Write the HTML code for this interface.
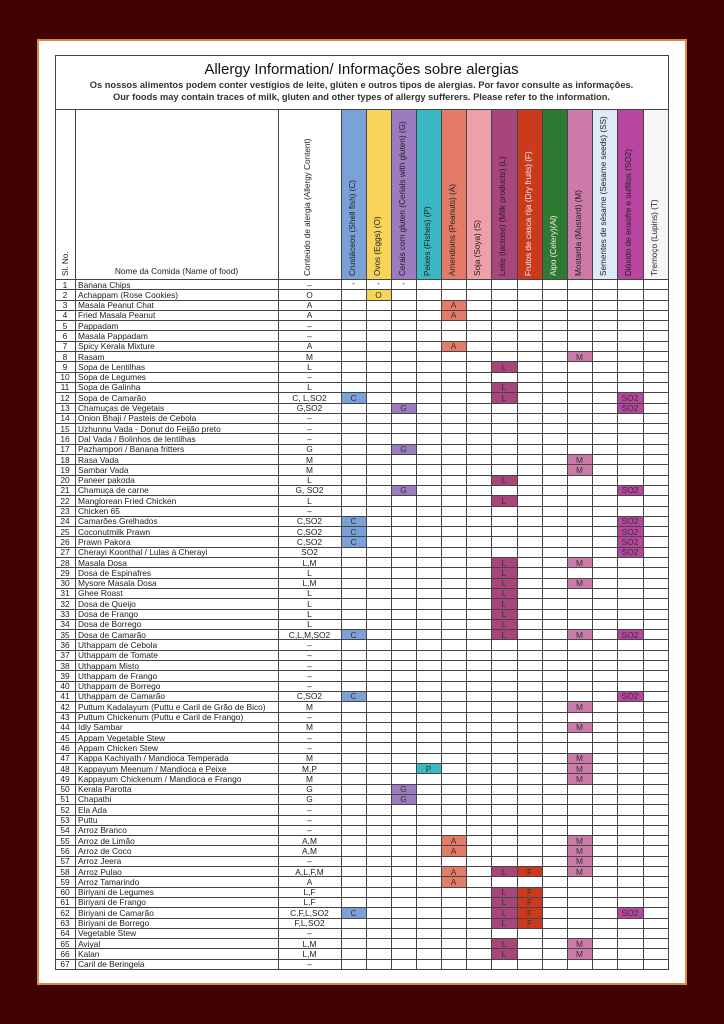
<!DOCTYPE html>
<html><head><meta charset="utf-8">
<style>
body{margin:0;width:724px;height:1024px;background:#430000;position:relative;overflow:hidden;font-family:"Liberation Sans",sans-serif;}
#page{position:absolute;left:37px;top:39px;width:646px;height:942px;background:#fff;border:2px solid #d4904a;box-sizing:content-box;}
.a{position:absolute;box-sizing:border-box;}
.t{position:absolute;font-size:8.4px;line-height:10px;color:#222;white-space:nowrap;}
.h{position:absolute;font-size:8.2px;color:#222;white-space:nowrap;transform-origin:0 0;transform:rotate(-90deg);}
</style></head><body>
<div id="page"></div>
<div id="root"></div>
<script>
var R=document.getElementById('root'),H='';
function box(x,y,w,h,st){H+='<div class="a" style="left:'+x+'px;top:'+y+'px;width:'+w+'px;height:'+h+'px;'+st+'"></div>';}
function txt(x,y,s,st){H+='<div class="t" style="left:'+x+'px;top:'+y+'px;'+(st||'')+'">'+s+'</div>';}
var L=55,Rr=668,T0=55,HT=109,HB=279,B=969;
H+='<div class="t" style="left:55px;width:613px;top:61px;text-align:center;font-size:15px;line-height:17px;color:#111">Allergy Information/ Informações sobre alergias</div>';
H+='<div class="t" style="left:55px;width:613px;top:80px;text-align:center;font-size:9.3px;font-weight:bold;color:#333;line-height:11px">Os nossos alimentos podem conter vestígios de leite, glúten e outros tipos de alergias. Por favor consulte as informações.</div>';
H+='<div class="t" style="left:55px;width:613px;top:92px;text-align:center;font-size:9.3px;font-weight:bold;color:#333;line-height:11px">Our foods may contain traces of milk, gluten and other types of allergy sufferers. Please refer to the information.</div>';
var cx=[341,366,391,416,441,466,491,517,542,567,592,617,643,668];
var cols=['#7ba2d8','#f8d458','#9c7cc0','#3ab8c4','#e47b68','#eea0a8','#a8457a','#cc3a1e','#2f7a32','#cc7aa8','#ddeaf8','#b845a0','#f6f6f6'];
var names=['Crustáceos (Shell fish) (C)','Ovos (Eggs) (O)','Cerais com gluten (Cerials with gluten) (G)','Peixes (Fishes) (P)','Amendoins (Peanuts) (A)','Soja (Soya) (S)','Leite (lactose) (Milk products) (L)','Frutos de casca rija (Dry fruits) (F)','Aipo (Celery)(Al)','Mostarda (Mustard) (M)','Sementes de sésame (Sesame seeds) (SS)','Dióxido de enxofre e sulfitos (SO2)','Tremoço (Lupins) (T)'];
for(var i=0;i<13;i++){box(cx[i],HT,cx[i+1]-cx[i],HB-HT,'background:'+cols[i]);H+='<div class="h" style="left:'+(cx[i]+7)+'px;top:276px;'+(i==7||i==8?'color:#eee;':'')+'">'+names[i]+'</div>';}
H+='<div class="h" style="left:303px;top:276px">Conteúdo de alergia (Allergy Content)</div>';
H+='<div class="h" style="left:61px;top:276px">Sl. No.</div>';
txt(75,266,'Nome da Comida (Name of food)','width:203px;text-align:center');
var rows=[
['Banana Chips','–',''],['Achappam (Rose Cookies)','O','O'],['Masala Peanut Chat','A','A'],['Fried Masala Peanut','A','A'],['Pappadam','–',''],['Masala Pappadam','–',''],['Spicy Kerala Mixture','A','A'],['Rasam','M','M'],['Sopa de Lentilhas','L','L'],['Sopa de Legumes','–',''],['Sopa de Galinha','L','L'],['Sopa de Camarão','C, L,SO2','C L SO2'],['Chamuças de Vegetais','G,SO2','G SO2'],['Onion Bhaji / Pasteis de Cebola','–',''],['Uzhunnu Vada - Donut do Feijão preto','–',''],['Dal Vada / Bolinhos de lentilhas','–',''],['Pazhampori / Banana fritters','G','G'],['Rasa Vada','M','M'],['Sambar Vada','M','M'],['Paneer pakoda','L','L'],['Chamuça de carne','G, SO2','G SO2'],['Manglorean Fried Chicken','L','L'],['Chicken 65','–',''],['Camarões Grelhados','C,SO2','C SO2'],['Coconutmilk Prawn','C,SO2','C SO2'],['Prawn Pakora','C,SO2','C SO2'],['Cherayi Koonthal / Lulas á Cherayi','SO2','SO2'],['Masala Dosa','L,M','L M'],['Dosa de Espinafres','L','L'],['Mysore Masala Dosa','L,M','L M'],['Ghee Roast','L','L'],['Dosa de Queijo','L','L'],['Dosa de Frango','L','L'],['Dosa de Borrego','L','L'],['Dosa de Camarão','C,L,M,SO2','C L M SO2'],['Uthappam de Cebola','–',''],['Uthappam de Tomate','–',''],['Uthappam Misto','–',''],['Uthappam de Frango','–',''],['Uthappam de Borrego','–',''],['Uthappam de Camarão','C,SO2','C SO2'],['Puttum Kadalayum (Puttu e Caril de Grão de Bico)','M','M'],['Puttum Chickenum (Puttu e Caril de Frango)','–',''],['Idly Sambar','M','M'],['Appam Vegetable Stew','–',''],['Appam Chicken Stew','–',''],['Kappa Kachiyath / Mandioca Temperada','M','M'],['Kappayum Meenum / Mandioca e Peixe','M,P','P M'],['Kappayum Chickenum / Mandioca e Frango','M','M'],['Kerala Parotta','G','G'],['Chapathi','G','G'],['Ela Ada','–',''],['Puttu','–',''],['Arroz Branco','–',''],['Arroz de Limão','A,M','A M'],['Arroz de Coco','A,M','A M'],['Arroz Jeera','–','M'],['Arroz Pulao','A,L,F,M','A L F M'],['Arroz Tamarindo','A','A'],['Biriyani de Legumes','L,F','L F'],['Biriyani de Frango','L,F','L F'],['Biriyani de Camarão','C,F,L,SO2','C L F SO2'],['Biriyani de Borrego','F,L,SO2','L F'],['Vegetable Stew','–',''],['Aviyal','L,M','L M'],['Kalan','L,M','L M'],['Caril de Beringela','–','']];
var idx={C:0,O:1,G:2,P:3,A:4,S:5,L:6,F:7,Al:8,M:9,SS:10,SO2:11,T:12};
var rh=(B-HB)/67;
for(var r=0;r<67;r++){var y=HB+r*rh,row=rows[r];
 txt(55,y+0.5,String(r+1),'width:20px;text-align:center');
 txt(78,y+0.5,row[0]);
 txt(278,y+0.5,row[1],'width:63px;text-align:center');
 if(row[2]){row[2].split(' ').forEach(function(k){var c=idx[k];box(cx[c]+1,y+1,cx[c+1]-cx[c]-1,rh-1,'background:'+cols[c]);txt(cx[c],y+0.5,k,'width:'+(cx[c+1]-cx[c])+'px;text-align:center;color:#333');});}
 if(r==0){for(var c=0;c<3;c++)txt(cx[c],y-1,'-','width:25px;text-align:center');}
 box(L,y,Rr-L,1,'background:#444');
}
[55,75,278].concat(cx).forEach(function(x){box(x,HT,1,B-HT,'background:#444');});
box(L,T0,Rr-L+1,1,'background:#444');box(L,T0,1,HT-T0,'background:#444');box(Rr,T0,1,HT-T0,'background:#444');
box(L,HT,Rr-L,1,'background:#444');box(L,B,Rr-L+1,1,'background:#444');
R.innerHTML=H;
</script>
</body></html>
